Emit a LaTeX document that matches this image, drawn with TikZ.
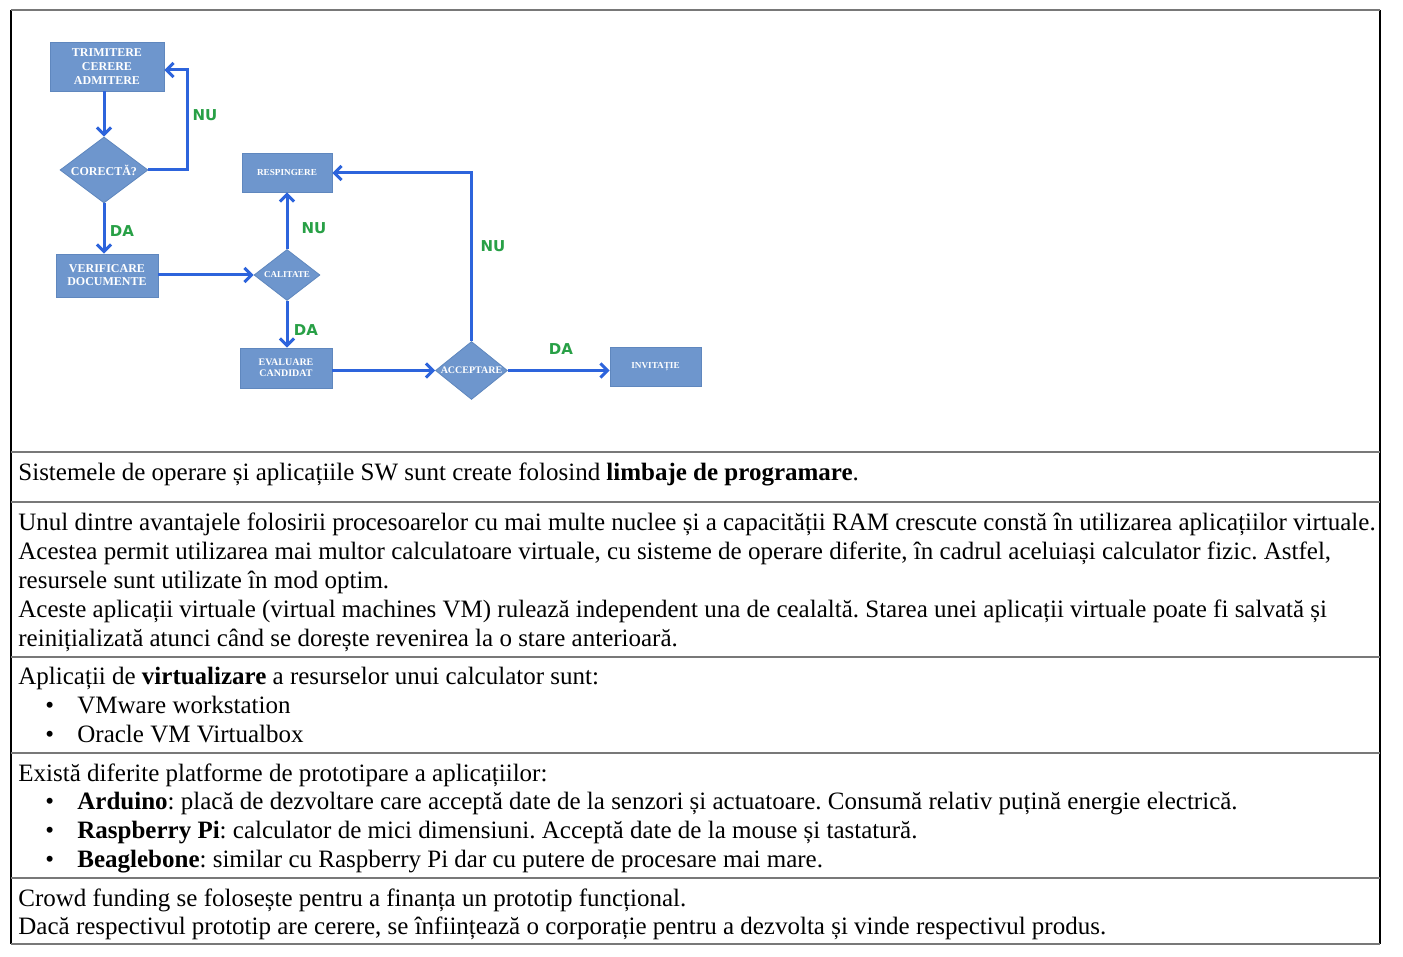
\documentclass[tikz,border=0pt]{standalone}
\usepackage{fontspec}
\setmainfont{Liberation Serif}
\newfontfamily\lblfont{DejaVu Sans}
\usetikzlibrary{shapes.geometric,arrows.meta}
\frenchspacing
\definecolor{boxfill}{RGB}{110,150,205}
\definecolor{boxline}{RGB}{95,135,190}
\definecolor{arrowblue}{RGB}{45,100,220}
\definecolor{lblgreen}{RGB}{40,160,70}
\definecolor{rulegray}{RGB}{120,120,120}
\tikzset{
  stepbox/.style={draw=boxline, line width=0.4pt, fill=boxfill, text=white, inner sep=0pt, align=center, font=\bfseries},
  decision/.style={shape=diamond, draw=boxline, line width=0.4pt, fill=boxfill, text=white, inner sep=0pt, align=center, font=\bfseries},
  flow/.style={draw=arrowblue, line width=1.5pt, -{Straight Barb[length=3.5pt,width=7pt]}},
  lbl/.style={text=lblgreen, font=\lblfont\bfseries\fontsize{7.5}{9}\selectfont, inner sep=0pt},
  txt/.style={anchor=base west, inner sep=0pt, font=\fontsize{12.5}{14.5}\selectfont},
  hrule/.style={draw=rulegray, line width=1pt},
  vrule/.style={draw=black, line width=0.8pt}
}
\begin{document}
\begin{tikzpicture}[x=0.5pt,y=-0.5pt]
\useasboundingbox (0,0) rectangle (1403,957);
\fill[white] (0,0) rectangle (1403,957);
% table
\draw[vrule] (11,10) -- (11,944);
\draw[vrule] (1380,10) -- (1380,944);
\foreach \yy in {10,452,502,657,753,878,944} {\draw[hrule] (11,\yy) -- (1380,\yy);}
% flowchart nodes (sizes in pt = px/2)
\node[stepbox, minimum width=57pt, minimum height=24.5pt, font=\bfseries\fontsize{6}{7}\selectfont] (trim) at (107,66.5) {TRIMITERE\\CERERE\\ADMITERE};
\node[decision, aspect=1.33, minimum width=44pt, minimum height=33pt, font=\bfseries\fontsize{6}{7}\selectfont] (cor) at (104,170) {CORECTĂ?};
\node[stepbox, minimum width=51pt, minimum height=21.5pt, font=\bfseries\fontsize{6}{6.5}\selectfont] (ver) at (107,275.5) {VERIFICARE\\DOCUMENTE};
\node[decision, aspect=1.3, minimum width=33pt, minimum height=25.5pt, font=\bfseries\fontsize{4.5}{5}\selectfont] (cal) at (287,275) {CALITATE};
\node[stepbox, minimum width=45pt, minimum height=19.5pt, font=\bfseries\fontsize{4.6}{5}\selectfont] (resp) at (287,172.5) {RESPINGERE};
\node[stepbox, minimum width=46pt, minimum height=20pt, font=\bfseries\fontsize{5}{5.6}\selectfont] (eval) at (286,368) {EVALUARE\\CANDIDAT};
\node[decision, aspect=1.24, minimum width=36pt, minimum height=29pt, font=\bfseries\fontsize{5}{6}\selectfont] (acc) at (471.5,370.5) {ACCEPTARE};
\node[stepbox, minimum width=45.5pt, minimum height=19.5pt, font=\bfseries\fontsize{4.6}{5}\selectfont] (inv) at (655.5,366.5) {INVITAȚIE};
% connectors
\draw[flow] (trim.south -| cor.north) -- (cor.north);
\draw[flow] (cor.east) -- (187,170) -- (187,70) -- (trim.east |- 0,70);
\draw[flow] (cor.south) -- (ver.north -| cor.south);
\draw[flow] (ver.east |- cal.west) -- (cal.west);
\draw[flow] (cal.north) -- (resp.south -| cal.north);
\draw[flow] (cal.south) -- (eval.north -| cal.south);
\draw[flow] (eval.east |- acc.west) -- (acc.west);
\draw[flow] (acc.north) -- (acc.north |- 0,173) -- (resp.east |- 0,173);
\draw[flow] (acc.east) -- (inv.west |- acc.east);
% labels
\node[lbl] (l1) at (205,115) {NU};
\node[lbl] (l2) at (122,231) {DA};
\node[lbl] (l3) at (314,228) {NU};
\node[lbl] (l4) at (306,330) {DA};
\node[lbl] (l5) at (493,246) {NU};
\node[lbl] (l6) at (561,349) {DA};
% table text
\node[txt] (t1) at (18,480) {Sistemele de operare și aplicațiile SW sunt create folosind \textbf{limbaje de programare}.};
\node[txt] (t2) at (18,530) {Unul dintre avantajele folosirii procesoarelor cu mai multe nuclee și a capacității RAM crescute constă în utilizarea aplicațiilor virtuale.};
\node[txt] (t3) at (18,559) {Acestea permit utilizarea mai multor calculatoare virtuale, cu sisteme de operare diferite, în cadrul aceluiași calculator fizic. Astfel,};
\node[txt] (t4) at (18,588) {resursele sunt utilizate în mod optim.};
\node[txt] (t5) at (18,617) {Aceste aplicații virtuale (virtual machines VM) rulează independent una de cealaltă. Starea unei aplicații virtuale poate fi salvată și};
\node[txt] (t6) at (18,646) {reinițializată atunci când se dorește revenirea la o stare anterioară.};
\node[txt] (t7) at (18,684) {Aplicații de \textbf{virtualizare} a resurselor unui calculator sunt:};
\node[txt] (b1) at (45,713) {•};
\node[txt] (t8) at (77,713) {VMware workstation};
\node[txt] (b2) at (45,742) {•};
\node[txt] (t9) at (77,742) {Oracle VM Virtualbox};
\node[txt] (t10) at (18,781) {Există diferite platforme de prototipare a aplicațiilor:};
\node[txt] (b3) at (45,809) {•};
\node[txt] (t11) at (77,809) {\textbf{Arduino}: placă de dezvoltare care acceptă date de la senzori și actuatoare. Consumă relativ puțină energie electrică.};
\node[txt] (b4) at (45,838) {•};
\node[txt] (t12) at (77,838) {\textbf{Raspberry Pi}: calculator de mici dimensiuni. Acceptă date de la mouse și tastatură.};
\node[txt] (b5) at (45,867) {•};
\node[txt] (t13) at (77,867) {\textbf{Beaglebone}: similar cu Raspberry Pi dar cu putere de procesare mai mare.};
\node[txt] (t14) at (18,906) {Crowd funding se folosește pentru a finanța un prototip funcțional.};
\node[txt] (t15) at (18,934) {Dacă respectivul prototip are cerere, se înființează o corporație pentru a dezvolta și vinde respectivul produs.};
\end{tikzpicture}
\end{document}
